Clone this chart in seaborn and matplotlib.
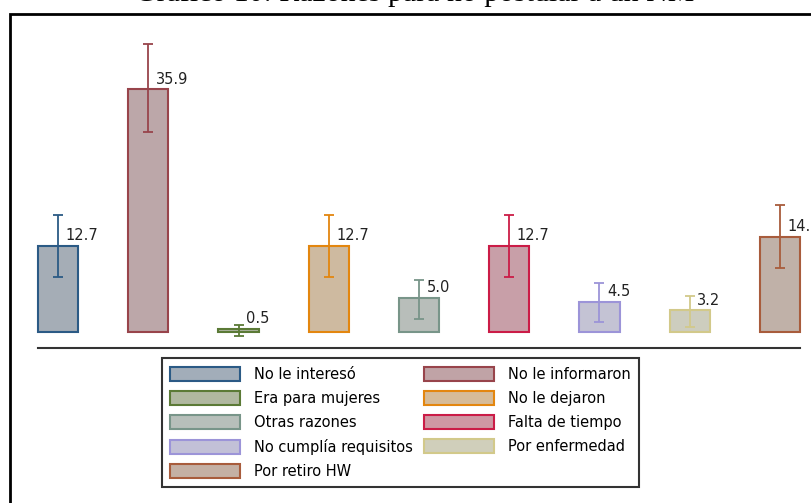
#import packages
import matplotlib
matplotlib.use("Agg")
import matplotlib.pyplot as plt
import matplotlib.patches as mpatches
import seaborn as sns

#data
razones = ["No le interesó", "No le informaron", "Era para mujeres", "No le dejaron",
           "Otras razones", "Falta de tiempo", "No cumplía requisitos",
           "Por enfermedad", "Por retiro HW"]
valores = [12.7, 35.9, 0.5, 12.7, 5.0, 12.7, 4.5, 3.2, 14.1]
ic_bajo = [8.1, 29.6, -0.6, 8.1, 1.9, 8.1, 1.5, 0.7, 9.4]
ic_alto = [17.3, 42.6, 1.0, 17.3, 7.7, 17.3, 7.3, 5.3, 18.8]
etiquetas = ["12.7", "35.9", "0.5", "12.7", "5.0", "12.7", "4.5", "3.2", "14.1"]

#colours (fill / edge)
relleno = ["#a2adb9", "#c0a3a6", "#b0b8a0", "#d6bb98", "#b7bfba",
           "#cf98a4", "#c2c0d7", "#d0cfbb", "#c4b0a4"]
borde = ["#2b5a85", "#98444b", "#5b7a36", "#e3860f", "#789589",
         "#cb1c47", "#9c94d8", "#d2c98a", "#a85c3c"]

plt.rcParams['font.family'] = ['DejaVu Sans']

fig = plt.figure(figsize=(8.11, 5.03), dpi=100)
ax = fig.add_axes([38/811, 1 - 348/503, 762/811, 318/503])

sns.barplot(x=razones, y=valores, hue=razones, palette=relleno, legend=False,
            width=0.444, ax=ax, linewidth=1.5)
for p, c in zip(ax.patches, borde):
    p.set_edgecolor(c)
    p.set_clip_on(False)

for i in range(len(razones)):
    ax.errorbar(i, valores[i], yerr=[[valores[i] - ic_bajo[i]], [ic_alto[i] - valores[i]]],
                color=borde[i], capsize=3.5, elinewidth=1.3, capthick=1.3)
    ax.annotate(etiquetas[i], (i, valores[i]), xytext=(5.5, 2), textcoords="offset points",
                ha="left", va="bottom", fontsize=10.5, color="#222222", annotation_clip=False)

ax.set_xlim(-0.222, 8.222)
ax.set_ylim(-2.37, 44.7)
ax.set_xticks([])
ax.set_yticks([])
ax.set_xlabel("")
ax.set_ylabel("")
for s in ["top", "left", "right"]:
    ax.spines[s].set_visible(False)
ax.spines["bottom"].set_linewidth(1.5)
ax.spines["bottom"].set_color("#333333")

#legend in row order
orden = [0, 2, 4, 6, 8, 1, 3, 5, 7]
handles = [mpatches.Patch(facecolor=relleno[k], edgecolor=borde[k], linewidth=1.5, label=razones[k])
           for k in orden]
leg = fig.legend(handles=handles, ncol=2, loc="upper left", mode="expand",
                 bbox_to_anchor=(162/811, 1 - 359/503, 477/811, 0.001), fontsize=10.5,
                 handlelength=4.8, handleheight=1.1, labelspacing=0.62,
                 handletextpad=0.96, columnspacing=1.2, borderpad=0.55,
                 fancybox=False, frameon=True, borderaxespad=0)
leg.get_frame().set_edgecolor("black")
leg.get_frame().set_linewidth(1.5)

#outer frame (cropped on right and bottom)
fig.patches.append(mpatches.Rectangle((9.5/811, -0.2), 1.2, 1.2 - 14/503, transform=fig.transFigure,
                                      fill=False, edgecolor="black", linewidth=2))

fig.text(415/811, 1 - 1/503, "Gráfico 10: Razones para no postular a un NM", ha="center",
         va="baseline", fontsize=21.5, family="Liberation Serif")

plt.savefig("out.png", dpi=100)
